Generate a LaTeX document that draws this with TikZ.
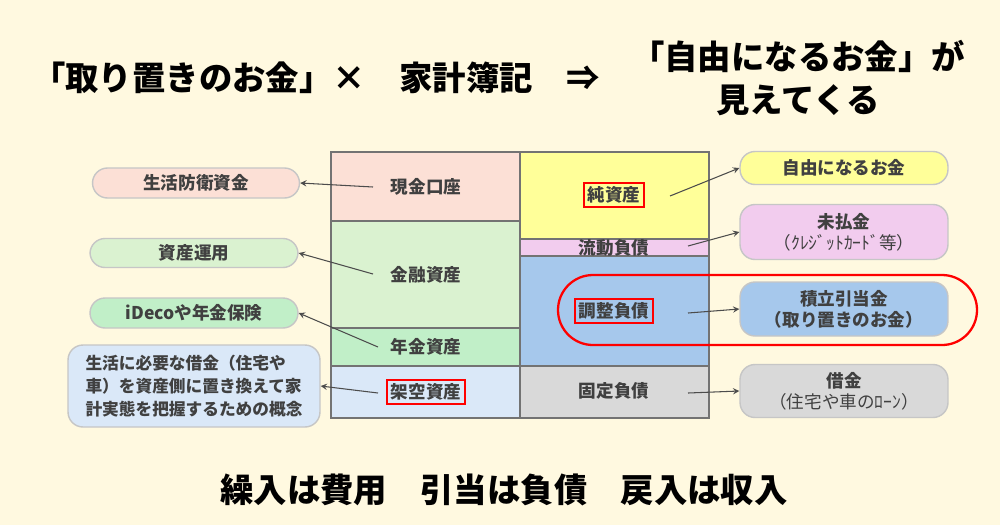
\documentclass[tikz,border=0pt]{standalone}
\usepackage{fontspec}
\setmainfont{Noto Sans CJK JP}
\begin{document}
\begin{tikzpicture}[x=0.02cm,y=-0.02cm,
 cell/.style={draw=gray!90!black,line width=1pt},
 lbl/.style={font=\fontsize{10}{12}\selectfont\bfseries,text=black!75},
 bub/.style={draw=gray!45,line width=0.8pt,rounded corners=0.3cm},
 rb/.style={draw=red,line width=1pt,inner sep=2pt},
 ttl/.style={font=\fontsize{19}{24}\selectfont\bfseries},
 arr/.style={-stealth,draw=black!70,line width=0.6pt}]
\definecolor{bg}{HTML}{FFF9E0}
\fill[bg] (0,0) rectangle (1000,525);
\useasboundingbox (0,0) rectangle (1000,525);
\node[ttl,anchor=west] (t1) at (26,78) {「取り置きのお金」×\quad 家計簿記\quad ⇒};
\node[ttl,align=center] (t2) at (798,78) {「自由になるお金」が\\見えてくる};
\node[ttl] (t3) at (504,490) {繰入は費用\quad 引当は負債\quad 戻入は収入};
% table cells
\fill[cell,fill={rgb,255:red,252;green,224;blue,214}] (331,152) rectangle (520,221);
\fill[cell,fill={rgb,255:red,218;green,242;blue,208}] (331,221) rectangle (520,328);
\fill[cell,fill={rgb,255:red,193;green,239;blue,200}] (331,328) rectangle (520,366);
\fill[cell,fill={rgb,255:red,218;green,232;blue,248}] (331,366) rectangle (520,418);
\fill[cell,fill={rgb,255:red,255;green,255;blue,153}] (520,152) rectangle (709,239);
\fill[cell,fill={rgb,255:red,242;green,204;blue,238}] (520,239) rectangle (709,256);
\fill[cell,fill={rgb,255:red,166;green,200;blue,236}] (520,256) rectangle (709,366);
\fill[cell,fill={rgb,255:red,217;green,217;blue,217}] (520,366) rectangle (709,418);
\draw[cell] (331,152) rectangle (709,418);
\node[lbl] (a1) at (426,187) {現金口座};
\node[lbl] (a2) at (426,275) {金融資産};
\node[lbl] (a3) at (426,347) {年金資産};
\node[lbl,rb] (a4) at (426,392) {架空資産};
\node[lbl,rb] (b1) at (614,195) {純資産};
\node[lbl,inner sep=0pt] (b2) at (614,248) {流動負債};
\node[lbl,rb] (b3) at (614,311) {調整負債};
\node[lbl] (b4) at (614,391) {固定負債};
% left bubbles
\node[bub,fill={rgb,255:red,252;green,224;blue,214},minimum width=4.14cm,minimum height=0.6cm,lbl] (l1) at (196,183) {生活防衛資金};
\node[bub,fill={rgb,255:red,218;green,242;blue,208},minimum width=4.16cm,minimum height=0.58cm,lbl] (l2) at (194,253) {資産運用};
\node[bub,fill={rgb,255:red,193;green,239;blue,200},minimum width=4.16cm,minimum height=0.6cm,lbl] (l3) at (194,313) {iDecoや年金保険};
\node[bub,fill={rgb,255:red,218;green,232;blue,248},minimum width=5.04cm,minimum height=1.64cm,lbl,align=left,font=\fontsize{9.5}{13}\selectfont\bfseries] (l4) at (194,386) {生活に必要な借金（住宅や\\車）を資産側に置き換えて家\\計実態を把握するための概念};
% right bubbles
\node[bub,fill={rgb,255:red,255;green,255;blue,153},minimum width=4.16cm,minimum height=0.66cm,lbl] (r1) at (844,168) {自由になるお金};
\node[bub,fill={rgb,255:red,242;green,204;blue,238},minimum width=4.16cm,minimum height=1.1cm,lbl,align=center,font=\fontsize{10}{12}\selectfont] (r2) at (844,232) {\bfseries 未払金\\（ｸﾚｼﾞｯﾄｶｰﾄﾞ等）};
\node[bub,fill={rgb,255:red,166;green,200;blue,236},minimum width=4.16cm,minimum height=1.08cm,lbl,align=center] (r3) at (844,309) {積立引当金\\（取り置きのお金）};
\node[bub,fill={rgb,255:red,217;green,217;blue,217},minimum width=4.16cm,minimum height=1.06cm,lbl,align=center,font=\fontsize{10}{12}\selectfont] (r4) at (844,391) {\bfseries 借金\\（住宅や車のﾛｰﾝ）};
\draw[red,line width=1.3pt,rounded corners=0.7cm] (558,275) rectangle (977,345);
% arrows
\coordinate (s1) at (373,187);\coordinate (s2) at (373,274);\coordinate (s3) at (378,347);\coordinate (s4) at (378,393);
\coordinate (c1) at (670,196);\coordinate (c2) at (688,246);\coordinate (c3) at (688,313);\coordinate (c4) at (688,393);
\draw[arr] (s1) -- (l1.east);
\draw[arr] (s2) -- (l2.east);
\draw[arr] (s3) -- (l3.east);
\draw[arr] (s4) -- (l4.east);
\draw[arr] (c1) -- (r1.west);
\draw[arr] (c2) -- (r2.west);
\draw[arr] (c3) -- (r3.west);
\draw[arr] (c4) -- (r4.west);
\end{tikzpicture}
\end{document}
